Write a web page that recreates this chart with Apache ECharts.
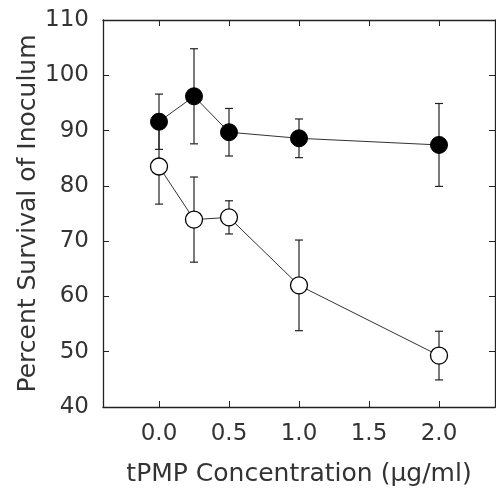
<!DOCTYPE html>
<html>
<head>
<meta charset="utf-8">
<script src="https://cdn.jsdelivr.net/npm/echarts@6/dist/echarts.min.js"></script>
<style>
  html, body { margin: 0; padding: 0; background: #fff; }
  #main { width: 496px; height: 492px; }
</style>
</head>
<body>
<div id="main"></div>
<script>
// tPMP concentration (ug/ml)
var conc = [0.0, 0.25, 0.5, 1.0, 2.0];
// filled circles
var filledMean = [91.6, 96.2, 89.7, 88.6, 87.4];
var filledErr = [5.0, 8.6, 4.3, 3.5, 7.5];
// open circles
var openMean = [83.5, 73.9, 74.3, 62.0, 49.3];
var openErr = [6.8, 7.7, 3.0, 8.2, 4.4];
var xTicks = [0.0, 0.5, 1.0, 1.5, 2.0];
var yTicks = [40, 50, 60, 70, 80, 90, 100, 110];

var font = 'DejaVu Sans';
var ink = '#333';

function pairs(xs, ys) {
    return xs.map(function (x, i) { return [x, ys[i]]; });
}
function errData(xs, ys, es) {
    return xs.map(function (x, i) { return [x, ys[i] - es[i], ys[i] + es[i]]; });
}

function renderErr(params, api) {
    var x = api.value(0);
    var lo = api.coord([x, api.value(1)]);
    var hi = api.coord([x, api.value(2)]);
    var w = 4;
    var st = { stroke: '#222', lineWidth: 1.2 };
    return {
        type: 'group',
        children: [
            { type: 'line', shape: { x1: lo[0], y1: lo[1], x2: hi[0], y2: hi[1] }, style: st },
            { type: 'line', shape: { x1: lo[0] - w, y1: lo[1], x2: lo[0] + w, y2: lo[1] }, style: st },
            { type: 'line', shape: { x1: hi[0] - w, y1: hi[1], x2: hi[0] + w, y2: hi[1] }, style: st }
        ]
    };
}

var chart = echarts.init(document.getElementById('main'));

var axisLine = { show: true, onZero: false, lineStyle: { color: '#222', width: 1.3 } };
var tickIn = { show: true, inside: true, length: 6, lineStyle: { color: '#222', width: 1 } };
var xTickIn = { show: true, inside: true, length: 6, lineStyle: { color: '#222', width: 1 }, customValues: xTicks };

var option = {
    animation: false,
    backgroundColor: '#fff',
    grid: { left: 103, right: 1, top: 20, bottom: 82 },
    xAxis: [{
        type: 'value',
        min: -0.4,
        max: 2.4,
        interval: 0.1,
        axisLine: axisLine,
        axisTick: xTickIn,
        axisLabel: {
            customValues: xTicks,
            formatter: function (v) { return v.toFixed(1); },
            fontFamily: font, fontSize: 23, color: ink, margin: 16
        },
        splitLine: { show: false },
        name: 'tPMP Concentration (\u03bcg/ml)',
        nameLocation: 'middle',
        nameGap: 55,
        nameMoveOverlap: false,
        nameTextStyle: { fontFamily: font, fontSize: 25, color: ink }
    }, {
        type: 'value',
        position: 'top',
        min: -0.4,
        max: 2.4,
        interval: 0.1,
        axisLine: axisLine,
        axisTick: xTickIn,
        axisLabel: { show: false },
        splitLine: { show: false }
    }],
    yAxis: [{
        type: 'value',
        min: 40,
        max: 110,
        interval: 10,
        axisLine: axisLine,
        axisTick: tickIn,
        axisLabel: {
            fontFamily: font, fontSize: 23, color: ink, margin: 14,
            customValues: yTicks
        },
        splitLine: { show: false },
        name: 'Percent Survival of Inoculum',
        nameLocation: 'middle',
        nameGap: 62,
        nameMoveOverlap: false,
        nameTextStyle: { fontFamily: font, fontSize: 25, color: ink }
    }, {
        type: 'value',
        position: 'right',
        min: 40,
        max: 110,
        interval: 10,
        axisLine: axisLine,
        axisTick: tickIn,
        axisLabel: { show: false },
        splitLine: { show: false }
    }],
    series: [{
        type: 'custom',
        name: 'filledErr',
        renderItem: renderErr,
        data: errData(conc, filledMean, filledErr),
        z: 1
    }, {
        type: 'custom',
        name: 'openErr',
        renderItem: renderErr,
        data: errData(conc, openMean, openErr),
        z: 1
    }, {
        type: 'line',
        name: 'filled',
        data: pairs(conc, filledMean),
        symbol: 'circle',
        symbolSize: 17,
        lineStyle: { color: '#333', width: 1 },
        itemStyle: { color: '#000', borderColor: '#000', borderWidth: 1 },
        z: 3
    }, {
        type: 'line',
        name: 'open',
        data: pairs(conc, openMean),
        symbol: 'circle',
        symbolSize: 17,
        lineStyle: { color: '#333', width: 1 },
        itemStyle: { color: '#fff', borderColor: '#000', borderWidth: 1.3 },
        z: 3
    }]
};

chart.setOption(option);
</script>
</body>
</html>
